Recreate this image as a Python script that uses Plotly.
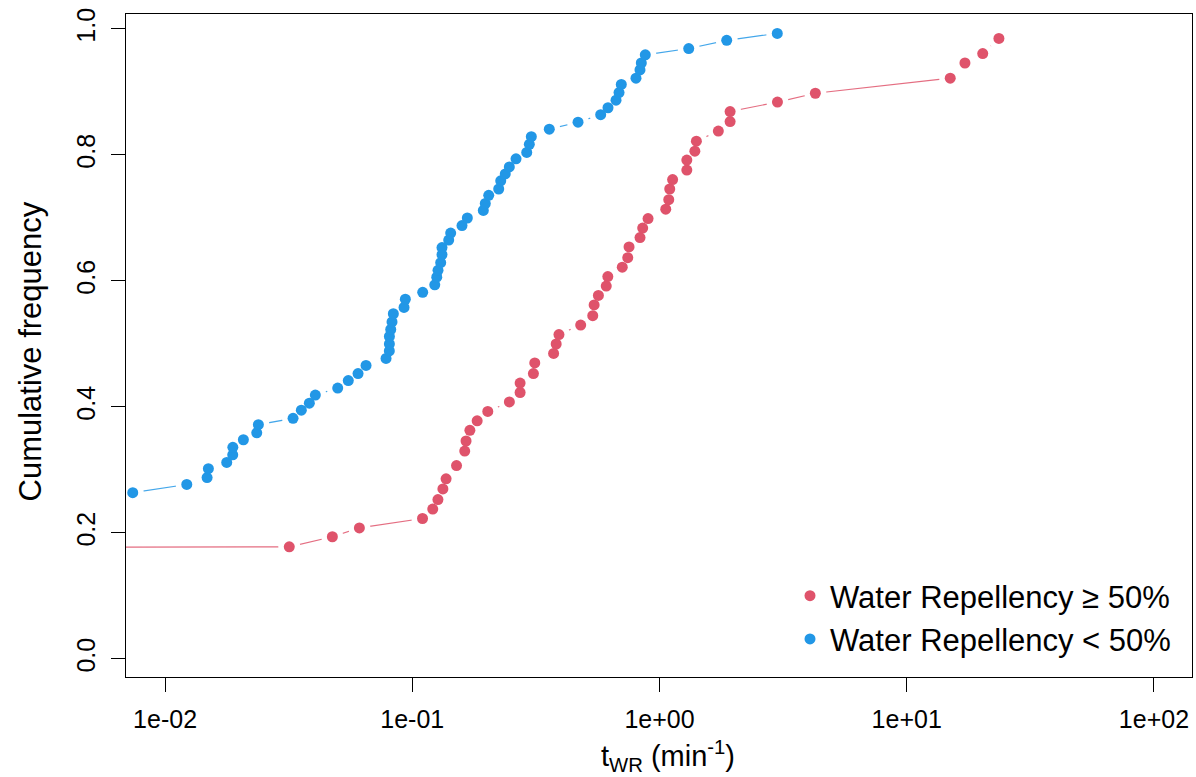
import plotly.graph_objects as go

# ECDF data
red_x = [0.0001, 0.0318, 0.0475, 0.0611, 0.110, 0.121, 0.127, 0.133, 0.137, 0.151,
         0.163, 0.165, 0.171, 0.183, 0.202, 0.247, 0.273, 0.273, 0.309, 0.313,
         0.373, 0.382, 0.392, 0.480, 0.537, 0.544, 0.566, 0.609, 0.618, 0.707,
         0.744, 0.753, 0.834, 0.855, 0.899, 1.06, 1.09, 1.10, 1.13, 1.29,
         1.29, 1.39, 1.41, 1.73, 1.93, 1.93, 3.00, 4.27, 15.0, 17.2,
         20.3, 23.6]
red_y = [0.176, 0.178, 0.194, 0.208, 0.223, 0.238, 0.253, 0.270, 0.286, 0.307,
         0.330, 0.346, 0.363, 0.378, 0.393, 0.408, 0.423, 0.438, 0.453, 0.470,
         0.485, 0.500, 0.515, 0.530, 0.545, 0.562, 0.577, 0.592, 0.607, 0.622,
         0.637, 0.654, 0.669, 0.684, 0.699, 0.714, 0.729, 0.746, 0.761, 0.776,
         0.792, 0.806, 0.822, 0.838, 0.853, 0.869, 0.884, 0.898, 0.922, 0.946,
         0.961, 0.985]

blue_x = [0.00740, 0.01224, 0.01479, 0.01497, 0.01776, 0.01878, 0.0188, 0.02074, 0.02349, 0.02385,
          0.03294, 0.03558, 0.03834, 0.04054, 0.04993, 0.05510, 0.06034, 0.06500, 0.07831, 0.08076,
          0.0808, 0.0808, 0.08180, 0.08281, 0.08383, 0.09260, 0.09373, 0.1102, 0.1233, 0.1256,
          0.1271, 0.1303, 0.1319, 0.1319, 0.1404, 0.1430, 0.1589, 0.1670, 0.1938, 0.1974,
          0.2038, 0.2237, 0.2279, 0.2378, 0.2469, 0.2628, 0.2904, 0.2975, 0.3031, 0.3583,
          0.4682, 0.5783, 0.6190, 0.6670, 0.6859, 0.7007, 0.8034, 0.8338, 0.8441, 0.8762,
          1.313, 1.870, 2.995]
blue_y = [0.264, 0.277, 0.288, 0.302, 0.312, 0.324, 0.336, 0.348, 0.359, 0.372,
          0.382, 0.395, 0.406, 0.419, 0.430, 0.442, 0.453, 0.466, 0.477, 0.489,
          0.500, 0.512, 0.523, 0.535, 0.548, 0.558, 0.571, 0.582, 0.594, 0.606,
          0.617, 0.629, 0.642, 0.653, 0.665, 0.676, 0.688, 0.700, 0.712, 0.723,
          0.736, 0.746, 0.759, 0.770, 0.781, 0.794, 0.804, 0.817, 0.829, 0.841,
          0.852, 0.864, 0.875, 0.887, 0.899, 0.912, 0.922, 0.935, 0.946, 0.959,
          0.969, 0.982, 0.993]

series = [
    ("Water Repellency \u2265 50%", red_x, red_y, "#DF536B", "rgba(223,83,107,0.85)"),
    ("Water Repellency < 50%", blue_x, blue_y, "#2297E6", "rgba(34,151,230,0.85)"),
]

tick_vals = [0.01, 0.1, 1, 10, 100]
tick_text = ["1e-02", "1e-01", "1e+00", "1e+01", "1e+02"]
y_ticks = [0.0, 0.2, 0.4, 0.6, 0.8, 1.0]
y_text = ["0.0", "0.2", "0.4", "0.6", "0.8", "1.0"]

FONT = "Arial, Liberation Sans, sans-serif"

fig = go.Figure()
for name, xs, ys, col, lcol in series:
    # connecting line
    fig.add_trace(go.Scatter(x=xs, y=ys, mode="lines", line=dict(color=lcol, width=1.2),
                             showlegend=False, hoverinfo="skip"))
    # white halo to create gaps around points (type="b" look)
    fig.add_trace(go.Scatter(x=xs, y=ys, mode="markers",
                             marker=dict(color="white", size=22, line=dict(width=0)),
                             showlegend=False, hoverinfo="skip"))
    # points
    fig.add_trace(go.Scatter(x=xs, y=ys, mode="markers", name=name,
                             marker=dict(color=col, size=11, line=dict(width=0))))

L, R, T, B = 126, 4, 14, 100
W, H = 1196, 777
pw = W - L - R
ph = H - T - B

fig.update_layout(
    width=W, height=H,
    margin=dict(l=L, r=R, t=T, b=B, autoexpand=False),
    paper_bgcolor="white", plot_bgcolor="white",
    font=dict(family=FONT, size=24, color="black"),
    showlegend=True,
    legend=dict(x=1 - 16 / pw, y=(677 - 666) / ph, xanchor="right", yanchor="bottom",
                bgcolor="rgba(0,0,0,0)", borderwidth=0, font=dict(size=31),
                itemsizing="trace", tracegroupgap=0),
    xaxis=dict(type="log", range=[-2.158, 2.154], tickvals=tick_vals, ticktext=tick_text,
               ticks="outside", ticklen=14, tickwidth=1, tickcolor="black",
               showline=True, linecolor="black", linewidth=1, mirror=True,
               showgrid=False, zeroline=False, tickfont=dict(size=25),
               ticklabelstandoff=6),
    yaxis=dict(range=[-0.0286, 1.0238], tickvals=y_ticks, ticktext=y_text,
               ticks="outside", ticklen=14, tickwidth=1, tickcolor="black",
               showline=True, linecolor="black", linewidth=1, mirror=True,
               showgrid=False, zeroline=False, tickangle=-90, tickfont=dict(size=25),
               ticklabelstandoff=6),
    annotations=[
        dict(text="Cumulative frequency", xref="paper", yref="paper",
             x=(30 - L) / pw, y=0.5 - 6 / ph, xanchor="center", yanchor="middle",
             textangle=-90, showarrow=False, font=dict(size=31)),
        dict(text="t<sub>WR</sub> (min<sup>-1</sup>)", xref="paper", yref="paper",
             x=(668 - L) / pw, y=-(756 - 677) / ph, xanchor="center", yanchor="middle",
             showarrow=False, font=dict(size=29)),
    ],
)

fig.write_html("out.html")
